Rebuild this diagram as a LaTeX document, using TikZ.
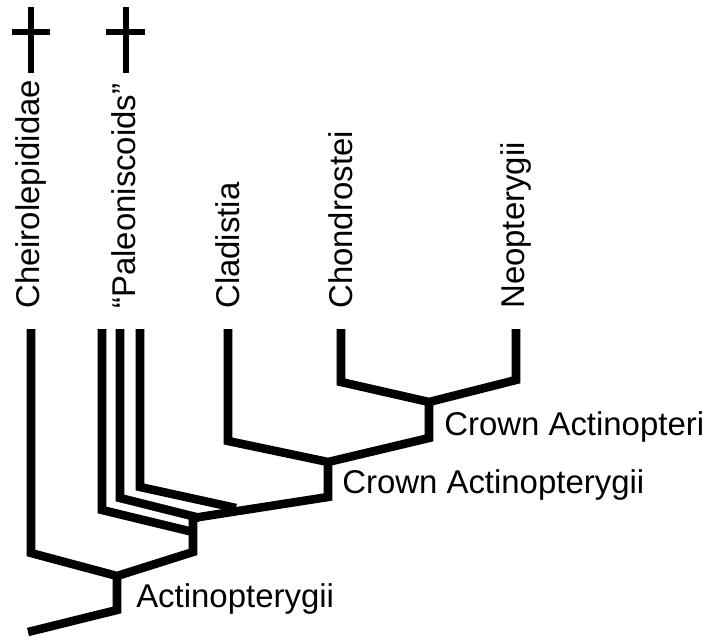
\documentclass[tikz,border=0pt]{standalone}
\usepackage{fontspec}
\setmainfont{Liberation Sans}
\begin{document}
\begin{tikzpicture}[x=0.75pt, y=-0.75pt, line width=6.4pt, line join=miter,
  taxon/.style={rotate=90, anchor=west, inner sep=0pt, font=\fontsize{24.7}{29}\selectfont},
  clade/.style={anchor=base west, inner sep=0pt, font=\fontsize{24.7}{29}\selectfont},
  extinct/.style={line width=5pt}]
\useasboundingbox (0,0) rectangle (721,642);
% tips
\node[taxon] (chei) at (31,313) {Cheirolepididae};
\node[taxon] (pale) at (124,313) {``Paleoniscoids''};
\node[taxon] (clad) at (228,313) {Cladistia};
\node[taxon] (chon) at (341,313) {Chondrostei};
\node[taxon] (neop) at (516,313) {Neopterygii};
% daggers
\draw[extinct](31,7)--(31,73);
\draw[extinct](12,32)--(50,32);
\draw[extinct](126,7)--(126,73);
\draw[extinct](106,32)--(145,32);
% branch points
\coordinate (root) at (28,632);
\coordinate (actn) at (117,576);
\coordinate (paln) at (193,518);
\coordinate (cagy) at (328,462);
\coordinate (cari) at (429,402);
% branches
\draw(root)--(117,610)--(actn);
\draw(31,329)--(31,553)--(actn)--(193,552)--(paln);
\draw(102,329)--(102,510)--(193,532);
\draw(120,329)--(120,498)--(200,518);
\draw(140,329)--(140,487)--(236,508);
\draw(paln)--(328,497)--(cagy);
\draw(228,329)--(228,441)--(cagy)--(429,438)--(cari);
\draw(341,329)--(341,382)--(cari)--(516,380)--(516,329);
% clade labels
\node[clade] (lactn) at (132,607) {Actinopterygii};
\node[clade] (lcagy) at (338,493) {Crown Actinopterygii};
\node[clade] (lcari) at (440,435) {Crown Actinopteri};
\end{tikzpicture}
\end{document}
